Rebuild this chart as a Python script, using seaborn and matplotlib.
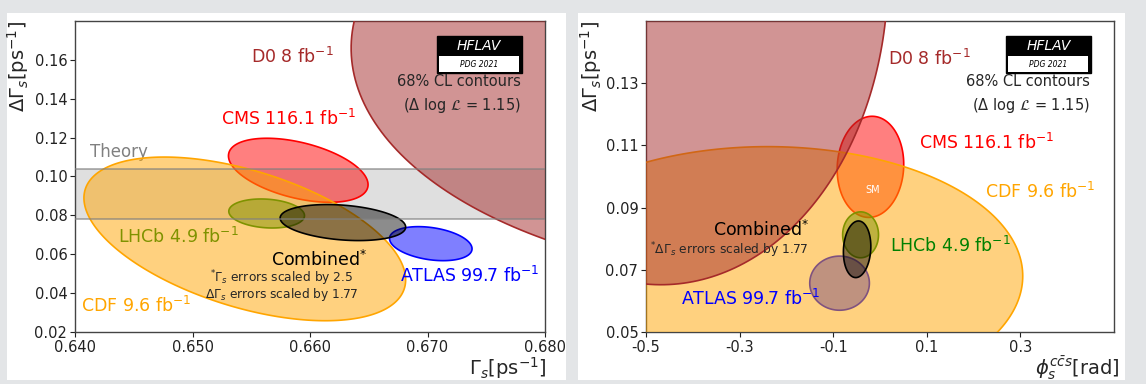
import numpy as np
import matplotlib
matplotlib.use("Agg")
import matplotlib.pyplot as plt
from matplotlib.colors import to_rgba
from matplotlib.patches import Rectangle
import seaborn as sns

sns.set_theme(style="ticks")
plt.rcParams['font.family'] = ['DejaVu Sans']
plt.rcParams['axes.unicode_minus'] = False

# experiments (same order in both panels)
experiments = ["ATLAS", "CMS", "LHCb", "CDF", "D0", "Combined"]
colors = ["blue", "red", "green", "orange", "brown", "black"]

# left panel: Gamma_s vs DeltaGamma_s (68% contour half widths)
gs_c = [0.67028, 0.6590, 0.65631, 0.65445, 0.7022, 0.6628]
gs_e = [0.00351, 0.00594, 0.00322, 0.01369, 0.0387, 0.00534]
dg_l_c = [0.06545, 0.1032, 0.08097, 0.0679, 0.166, 0.0763]
dg_l_e = [0.00875, 0.01647, 0.00746, 0.0421, 0.12, 0.00926]
rho_l = [-0.3, -0.45, -0.15, -0.5, 0.0, -0.25]

# right panel: phi_s vs DeltaGamma_s
phi_c = [-0.0864, -0.0204, -0.0415, -0.24, -0.468, -0.0489]
phi_e = [0.0637, 0.0711, 0.0383, 0.545, 0.485, 0.0293]
dg_r_c = [0.0657, 0.1031, 0.08125, 0.068, 0.165, 0.0766]
dg_r_e = [0.0087, 0.01626, 0.00738, 0.0416, 0.0998, 0.0091]
rho_r = [0.0, 0.05, 0.0, 0.0, 0.0, 0.1]

# theory / SM
theory_dg = [0.078, 0.104]
sm_phi = -0.0368

labels = {"ATLAS": "ATLAS 99.7 fb$^{-1}$", "CMS": "CMS 116.1 fb$^{-1}$",
          "LHCb": "LHCb 4.9 fb$^{-1}$", "CDF": "CDF 9.6 fb$^{-1}$",
          "D0": "D0 8 fb$^{-1}$", "Combined": "Combined$^{*}$"}


def ellipse(cx, cy, ex, ey, rho):
    t = np.linspace(0, 2 * np.pi, 300)
    x = cx + ex * np.cos(t)
    y = cy + ey * (rho * np.cos(t) + np.sqrt(1 - rho ** 2) * np.sin(t))
    return x, y


def draw_contours(ax, xc, xe, yc, ye, rho):
    for i, name in enumerate(experiments):
        x, y = ellipse(xc[i], yc[i], xe[i], ye[i], rho[i])
        a = 0.45 if name == "Combined" else 0.5
        ax.fill(x, y, facecolor=to_rgba(colors[i], a), edgecolor=colors[i],
                lw=1.2, zorder=2 + i)


def hflav(ax):
    ax.add_patch(Rectangle((0.7696, 0.8318), 0.181, 0.12, transform=ax.transAxes,
                           facecolor="black", edgecolor="black", zorder=20))
    ax.add_patch(Rectangle((0.7734, 0.836), 0.171, 0.0515, transform=ax.transAxes,
                           facecolor="white", edgecolor="none", zorder=21))
    ax.text(0.86, 0.921, "HFLAV", transform=ax.transAxes, color="white",
            style="italic", fontsize=10, ha="center", va="center", zorder=22)
    ax.text(0.859, 0.861, "PDG 2021", transform=ax.transAxes, color="black",
            style="italic", fontsize=5.5, ha="center", va="center", zorder=22)
    ax.text(0.948, 0.805, "68% CL contours", transform=ax.transAxes,
            fontsize=10.5, ha="right", va="center", zorder=22)
    ax.text(0.948, 0.727, r"($\Delta$ log $\mathcal{L}$ = 1.15)",
            transform=ax.transAxes, fontsize=10.5, ha="right", va="center", zorder=22)


def style_axes(ax):
    for s in ax.spines.values():
        s.set_color("#444444")
        s.set_linewidth(1.0)
    ax.tick_params(direction="out", length=3.5, width=0.8, labelsize=10.5,
                   pad=2, colors="#222222")


fig = plt.figure(figsize=(11.46, 3.84), dpi=100)
fig.patch.set_facecolor("#e3e5e7")
fig.patches.append(Rectangle((0.0061, 0.0104), 0.4878, 0.9557, transform=fig.transFigure,
                             facecolor="white", edgecolor="none", zorder=-10))
fig.patches.append(Rectangle((0.5044, 0.0104), 0.4773, 0.9557, transform=fig.transFigure,
                             facecolor="white", edgecolor="none", zorder=-10))

# ---------------- left panel ----------------
ax1 = fig.add_axes([0.06545, 0.13542, 0.41012, 0.80990])
ax1.axhspan(theory_dg[0], theory_dg[1], color="gray", alpha=0.25, lw=0, zorder=1)
for v in theory_dg:
    ax1.axhline(v, color="gray", alpha=0.7, lw=1.2, zorder=15)
ax1.text(0.64124, 0.1125, "Theory", color="gray", fontsize=12, va="center")
draw_contours(ax1, gs_c, gs_e, dg_l_c, dg_l_e, rho_l)

ax1.text(0.65495, 0.1616, labels["D0"], color="brown", fontsize=12.5, va="center")
ax1.text(0.65243, 0.1294, labels["CMS"], color="red", fontsize=12.5, va="center")
ax1.text(0.64363, 0.0687, labels["LHCb"], color="green", fontsize=12.5, va="center")
ax1.text(0.6567, 0.057, labels["Combined"], color="black", fontsize=12.5, va="center", zorder=20)
ax1.text(0.65763, 0.0479, r"$^{*}\Gamma_s$ errors scaled by 2.5", fontsize=8.8,
         ha="center", va="center", zorder=20)
ax1.text(0.65763, 0.0394, r"$\Delta\Gamma_s$ errors scaled by 1.77", fontsize=8.8,
         ha="center", va="center", zorder=20)
ax1.text(0.66768, 0.0488, labels["ATLAS"], color="blue", fontsize=12.5, va="center", zorder=20)
ax1.text(0.64052, 0.0334, labels["CDF"], color="orange", fontsize=12.5, va="center", zorder=20)
hflav(ax1)

ax1.set_xlim(0.640, 0.680)
ax1.set_ylim(0.02, 0.18)
ax1.set_xticks(np.arange(0.640, 0.6801, 0.01))
ax1.set_xticklabels(["%.3f" % v for v in np.arange(0.640, 0.6801, 0.01)])
ax1.set_yticks(np.arange(0.02, 0.161, 0.02))
ax1.set_yticklabels(["%.2f" % v for v in np.arange(0.02, 0.161, 0.02)])
ax1.set_xlabel(r"$\Gamma_s$[ps$^{-1}$]", fontsize=14, loc="right")
ax1.set_ylabel(r"$\Delta\Gamma_s$[ps$^{-1}$]", fontsize=14, loc="top")
ax1.xaxis.set_label_coords(1.004, -0.075)
ax1.yaxis.set_label_coords(-0.0936, 1.0)
style_axes(ax1)

# ---------------- right panel ----------------
ax2 = fig.add_axes([0.56370, 0.13542, 0.40838, 0.80990])
draw_contours(ax2, phi_c, phi_e, dg_r_c, dg_r_e, rho_r)
sns.lineplot(x=[sm_phi, sm_phi], y=theory_dg, color="white", lw=1.5, ax=ax2, zorder=16)
ax2.text(-0.031, 0.0958, "SM", color="white", fontsize=7, va="center", zorder=16)

ax2.text(0.0171, 0.1378, labels["D0"], color="brown", fontsize=12.5, va="center", zorder=20)
ax2.text(0.0842, 0.1107, labels["CMS"], color="red", fontsize=12.5, va="center", zorder=20)
ax2.text(0.2240, 0.0949, labels["CDF"], color="orange", fontsize=12.5, va="center", zorder=20)
ax2.text(0.0218, 0.0778, labels["LHCb"], color="green", fontsize=12.5, va="center", zorder=20)
ax2.text(-0.1523, 0.0829, labels["Combined"], color="black", fontsize=12.5,
         ha="right", va="center", zorder=20)
ax2.text(-0.1523, 0.0764, r"$^{*}\Delta\Gamma_s$ errors scaled by 1.77", fontsize=8.8,
         ha="right", va="center", zorder=20)
ax2.text(-0.4248, 0.0607, labels["ATLAS"], color="blue", fontsize=12.5, va="center", zorder=20)
hflav(ax2)

ax2.set_xlim(-0.5, 0.5)
ax2.set_ylim(0.05, 0.15)
ax2.set_xticks([-0.5, -0.3, -0.1, 0.1, 0.3])
ax2.set_xticklabels(["-0.5", "-0.3", "-0.1", "0.1", "0.3"])
ax2.set_yticks([0.05, 0.07, 0.09, 0.11, 0.13])
ax2.set_yticklabels(["0.05", "0.07", "0.09", "0.11", "0.13"])
ax2.set_xlabel(r"$\phi_s^{c\bar{c}s}$[rad]", fontsize=14, loc="right")
ax2.set_ylabel(r"$\Delta\Gamma_s$[ps$^{-1}$]", fontsize=14, loc="top")
ax2.xaxis.set_label_coords(1.013, -0.07)
ax2.yaxis.set_label_coords(-0.0897, 1.0)
style_axes(ax2)

fig.savefig("out.png", dpi=100, facecolor=fig.get_facecolor())
